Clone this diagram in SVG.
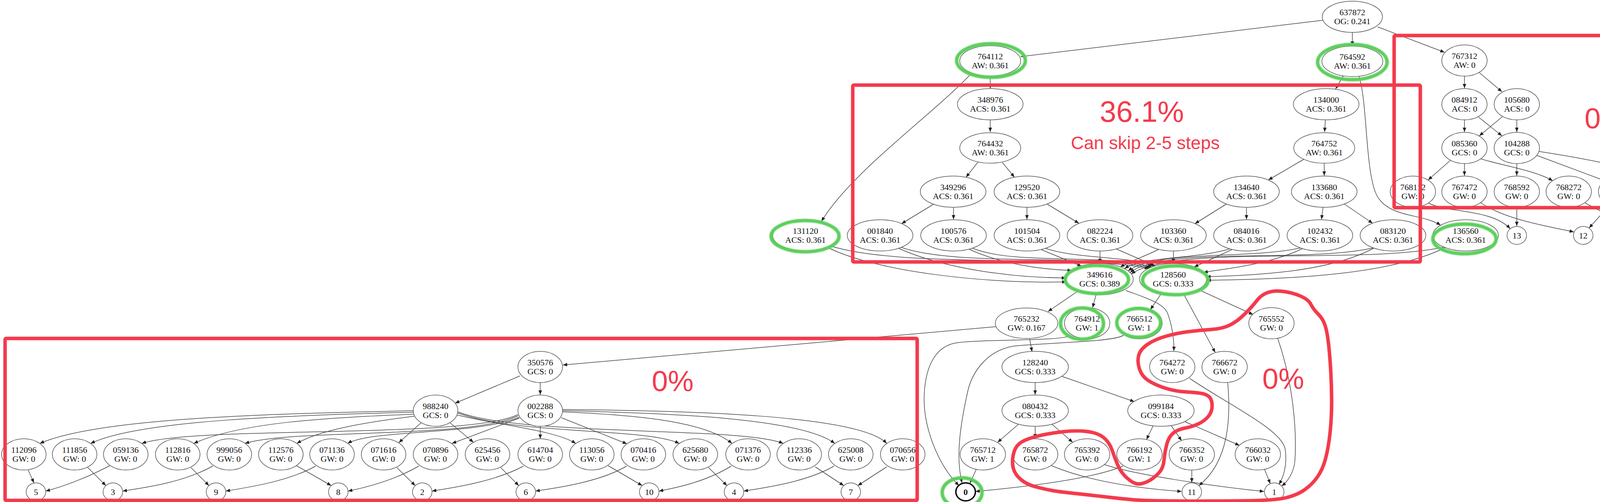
<svg xmlns="http://www.w3.org/2000/svg" width="4347" height="1286" viewBox="0 0 4347 1286">
<style>
.n ellipse{fill:#fff;stroke:#555;stroke-width:1.5}
.n text{font-family:"Liberation Serif","Times New Roman",serif;font-size:22px;text-anchor:middle;fill:#111}
.b ellipse{stroke:#000;stroke-width:3.5}
.b text{font-weight:bold}
.e path{fill:none;stroke:#444;stroke-width:1.5;marker-end:url(#a)}
.g ellipse{fill:none;stroke:#5ccf5c;stroke-width:9;filter:url(#soft)}
.r{fill:none;stroke:#f43a4c;stroke-width:9;stroke-linejoin:round;stroke-linecap:round}
.rt{font-family:"Liberation Sans",Arial,sans-serif;fill:#f43a4c;text-anchor:middle}
</style>
<defs>
<marker id="a" markerWidth="12" markerHeight="10" refX="11" refY="4.5" orient="auto" markerUnits="userSpaceOnUse"><path d="M0,0 L11,4.5 L0,9 z" fill="#222"/></marker>
<filter id="soft" x="-10%" y="-10%" width="120%" height="120%"><feGaussianBlur stdDeviation="1.2"/></filter>
</defs>
<rect width="4347" height="1286" fill="#fff"/>
<g id="connectors" class="e">
<path d="M3386,52 L2613,145"/>
<path d="M3462,83 L3462,117"/>
<path d="M3527,69 L3698,134"/>
<path d="M2535,194 L2535,227"/>
<path d="M2484,191 C2380,300 2180,440 2103,567"/>
<path d="M3439,194 L3419,228"/>
<path d="M3479,195 C3500,260 3495,420 3520,490 C3545,560 3640,545 3688,577"/>
<path d="M3749,195 L3749,226"/>
<path d="M3787,186 L3845,235"/>
<path d="M2535,307 L2535,338"/>
<path d="M3393,307 L3391,338"/>
<path d="M3749,307 L3749,338"/>
<path d="M3784,299 L3845,348"/>
<path d="M3846,299 L3787,348"/>
<path d="M3883,307 L3883,338"/>
<path d="M2503,416 L2473,454"/>
<path d="M2566,416 L2597,454"/>
<path d="M3338,408 L3247,461"/>
<path d="M3390,419 L3390,450"/>
<path d="M3715,409 L3656,461"/>
<path d="M3749,419 L3749,450"/>
<path d="M3791,407 C3850,425 3930,437 3975,463"/>
<path d="M3883,419 L3883,450"/>
<path d="M3934,398 L4108,463"/>
<path d="M3940,388 C4050,405 4190,430 4241,462"/>
<path d="M3657,520 C3700,545 3820,535 3866,586"/>
<path d="M3883,531 L3883,579"/>
<path d="M3790,519 C3850,560 3950,578 4029,594"/>
<path d="M4058,520 L4186,587"/>
<path d="M4121,525 L4068,584"/>
<path d="M4261,527 L4221,585"/>
<path d="M2390,523 L2308,573"/>
<path d="M2441,531 L2441,562"/>
<path d="M2629,531 L2629,562"/>
<path d="M2681,523 L2762,572"/>
<path d="M3139,523 L3059,573"/>
<path d="M3191,531 L3191,562"/>
<path d="M3387,531 L3383,562"/>
<path d="M3442,523 L3514,572"/>
<path d="M2117,633 C2250,700 2550,728 2730,722"/>
<path d="M2300,636 C2420,690 2600,712 2729,712"/>
<path d="M2480,638 C2560,675 2660,690 2744,693"/>
<path d="M2662,638 L2769,682"/>
<path d="M2816,643 L2816,674"/>
<path d="M2972,636 C2935,655 2895,668 2868,684"/>
<path d="M3150,637 C3060,665 2930,655 2879,688"/>
<path d="M3335,634 C3200,665 2960,640 2888,694"/>
<path d="M3520,634 C3350,675 2980,630 2893,698"/>
<path d="M3705,631 C3500,680 3000,625 2896,702"/>
<path d="M2120,628 C2300,690 2780,650 2941,688"/>
<path d="M2305,633 C2450,685 2800,648 2945,686"/>
<path d="M2490,636 C2600,680 2820,648 2949,684"/>
<path d="M2676,636 C2760,665 2900,655 2953,682"/>
<path d="M2856,637 L2957,681"/>
<path d="M3004,643 L3004,674"/>
<path d="M3159,637 L3057,684"/>
<path d="M3340,634 C3250,680 3120,690 3081,698"/>
<path d="M3520,634 C3400,700 3200,705 3088,709"/>
<path d="M3700,634 C3550,710 3250,716 3089,718"/>
<path d="M2759,746 L2683,798"/>
<path d="M2806,755 L2797,788"/>
<path d="M2882,744 C2930,762 2975,775 2988,800 C3000,830 3006,870 3005,899"/>
<path d="M2973,752 L2945,793"/>
<path d="M3030,753 L3111,903"/>
<path d="M3075,745 L3208,806"/>
<path d="M2549,837 L1441,935"/>
<path d="M2636,868 L2642,901"/>
<path d="M2741,859 C2720,875 2520,868 2450,878 C2400,885 2370,930 2366,1010 C2362,1090 2400,1190 2455,1244"/>
<path d="M2876,859 C2850,876 2680,878 2600,886 C2530,895 2490,950 2478,1000 C2460,1080 2445,1170 2463,1237"/>
<path d="M2499,1203 L2483,1238"/>
<path d="M2875,1194 C2800,1225 2650,1245 2497,1259"/>
<path d="M2650,980 L2650,1011"/>
<path d="M2718,964 L2904,1029"/>
<path d="M2607,1087 L2554,1133"/>
<path d="M2650,1092 L2650,1123"/>
<path d="M2692,1086 L2746,1133"/>
<path d="M2952,1091 L2935,1126"/>
<path d="M2998,1090 L3025,1129"/>
<path d="M3033,1080 L3173,1141"/>
<path d="M2692,1193 C2780,1230 2900,1250 3025,1259"/>
<path d="M2827,1190 C2900,1215 3100,1245 3236,1259"/>
<path d="M3051,1204 L3051,1236"/>
<path d="M3143,980 C3150,1060 3150,1180 3069,1244"/>
<path d="M3045,969 C3150,1040 3280,1100 3290,1150 C3296,1190 3286,1222 3274,1241"/>
<path d="M3271,867 C3310,980 3320,1100 3315,1180 C3312,1212 3296,1234 3281,1245"/>
<path d="M3237,1202 L3252,1239"/>
<path d="M1331,963 L1165,1033"/>
<path d="M1383,980 L1383,1011"/>
<path d="M1059,1052 C700,1060 250,1070 102,1136"/>
<path d="M1059,1056 C760,1064 360,1075 232,1136"/>
<path d="M1060,1061 C850,1070 620,1080 496,1136"/>
<path d="M1062,1066 C950,1080 820,1100 760,1136"/>
<path d="M1078,1083 L1021,1134"/>
<path d="M1152,1083 L1212,1133"/>
<path d="M1170,1063 C1280,1090 1420,1102 1474,1136"/>
<path d="M1172,1058 C1330,1115 1650,1095 1739,1136"/>
<path d="M1172,1055 C1330,1118 1900,1092 2005,1136"/>
<path d="M1326,1062 C1200,1125 500,1090 363,1136"/>
<path d="M1327,1065 C1200,1125 750,1098 627,1136"/>
<path d="M1329,1069 C1220,1115 950,1100 890,1136"/>
<path d="M1330,1071 L1157,1136"/>
<path d="M1383,1092 L1383,1124"/>
<path d="M1437,1070 L1605,1137"/>
<path d="M1440,1055 C1600,1062 1800,1075 1874,1136"/>
<path d="M1440,1052 C1700,1058 2050,1070 2137,1136"/>
<path d="M1440,1049 C1750,1052 2200,1062 2270,1136"/>
<path d="M72,1204 L87,1237"/>
<path d="M281,1193 C220,1225 160,1247 117,1258"/>
<path d="M224,1197 L271,1244"/>
<path d="M545,1194 C470,1235 380,1248 314,1258"/>
<path d="M489,1198 L535,1244"/>
<path d="M808,1194 C740,1232 640,1248 578,1258"/>
<path d="M759,1193 L848,1244"/>
<path d="M1072,1194 C1010,1230 940,1248 891,1258"/>
<path d="M1016,1198 L1063,1244"/>
<path d="M1340,1194 C1270,1232 1170,1248 1106,1258"/>
<path d="M1282,1198 L1328,1244"/>
<path d="M1604,1194 C1540,1232 1440,1248 1371,1258"/>
<path d="M1557,1193 L1644,1244"/>
<path d="M1872,1194 C1810,1232 1740,1248 1687,1258"/>
<path d="M1814,1198 L1861,1244"/>
<path d="M2135,1194 C2070,1232 1970,1248 1904,1258"/>
<path d="M2087,1196 L2160,1244"/>
<path d="M2270,1196 L2196,1244"/>
</g>
<g id="nodes">
<g id="n637872" class="n"><ellipse cx="3462" cy="43" rx="77" ry="40"/><text x="3462" y="39">637872</text><text x="3462" y="62">OG: 0.241</text></g>
<g id="n764112" class="n"><ellipse cx="2535" cy="156" rx="78" ry="39"/><text x="2535" y="152">764112</text><text x="2535" y="175">AW: 0.361</text></g>
<g id="n764592" class="n"><ellipse cx="3462" cy="157" rx="78" ry="39"/><text x="3462" y="153">764592</text><text x="3462" y="176">AW: 0.361</text></g>
<g id="n767312" class="n"><ellipse cx="3749" cy="155" rx="58" ry="40"/><text x="3749" y="151">767312</text><text x="3749" y="174">AW: 0</text></g>
<g id="n348976" class="n"><ellipse cx="2535" cy="267" rx="84" ry="40"/><text x="2535" y="263">348976</text><text x="2535" y="286">ACS: 0.361</text></g>
<g id="n134000" class="n"><ellipse cx="3395" cy="267" rx="84" ry="40"/><text x="3395" y="263">134000</text><text x="3395" y="286">ACS: 0.361</text></g>
<g id="n084912" class="n"><ellipse cx="3749" cy="267" rx="58" ry="40"/><text x="3749" y="263">084912</text><text x="3749" y="286">ACS: 0</text></g>
<g id="n105680" class="n"><ellipse cx="3883" cy="267" rx="58" ry="40"/><text x="3883" y="263">105680</text><text x="3883" y="286">ACS: 0</text></g>
<g id="n764432" class="n"><ellipse cx="2535" cy="379" rx="78" ry="39"/><text x="2535" y="375">764432</text><text x="2535" y="398">AW: 0.361</text></g>
<g id="n764752" class="n"><ellipse cx="3390" cy="379" rx="78" ry="39"/><text x="3390" y="375">764752</text><text x="3390" y="398">AW: 0.361</text></g>
<g id="n085360" class="n"><ellipse cx="3749" cy="379" rx="58" ry="40"/><text x="3749" y="375">085360</text><text x="3749" y="398">GCS: 0</text></g>
<g id="n104288" class="n"><ellipse cx="3883" cy="379" rx="58" ry="40"/><text x="3883" y="375">104288</text><text x="3883" y="398">GCS: 0</text></g>
<g id="n349296" class="n"><ellipse cx="2440" cy="491" rx="84" ry="40"/><text x="2440" y="487">349296</text><text x="2440" y="510">ACS: 0.361</text></g>
<g id="n129520" class="n"><ellipse cx="2629" cy="491" rx="84" ry="40"/><text x="2629" y="487">129520</text><text x="2629" y="510">ACS: 0.361</text></g>
<g id="n134640" class="n"><ellipse cx="3191" cy="491" rx="84" ry="40"/><text x="3191" y="487">134640</text><text x="3191" y="510">ACS: 0.361</text></g>
<g id="n133680" class="n"><ellipse cx="3390" cy="491" rx="84" ry="40"/><text x="3390" y="487">133680</text><text x="3390" y="510">ACS: 0.361</text></g>
<g id="n768112" class="n"><ellipse cx="3617" cy="491" rx="58" ry="40"/><text x="3617" y="487">768112</text><text x="3617" y="510">GW: 0</text></g>
<g id="n767472" class="n"><ellipse cx="3749" cy="491" rx="58" ry="40"/><text x="3749" y="487">767472</text><text x="3749" y="510">GW: 0</text></g>
<g id="n768592" class="n"><ellipse cx="3883" cy="491" rx="58" ry="40"/><text x="3883" y="487">768592</text><text x="3883" y="510">GW: 0</text></g>
<g id="n768272" class="n"><ellipse cx="4016" cy="491" rx="58" ry="40"/><text x="4016" y="487">768272</text><text x="4016" y="510">GW: 0</text></g>
<g id="n768432" class="n"><ellipse cx="4150" cy="491" rx="58" ry="40"/><text x="4150" y="487">768432</text><text x="4150" y="510">GW: 0</text></g>
<g id="n768752" class="n"><ellipse cx="4283" cy="491" rx="58" ry="40"/><text x="4283" y="487">768752</text><text x="4283" y="510">GW: 0</text></g>
<g id="n131120" class="n"><ellipse cx="2062" cy="603" rx="84" ry="40"/><text x="2062" y="599">131120</text><text x="2062" y="622">ACS: 0.361</text></g>
<g id="n001840" class="n"><ellipse cx="2253" cy="603" rx="84" ry="40"/><text x="2253" y="599">001840</text><text x="2253" y="622">ACS: 0.361</text></g>
<g id="n100576" class="n"><ellipse cx="2441" cy="603" rx="84" ry="40"/><text x="2441" y="599">100576</text><text x="2441" y="622">ACS: 0.361</text></g>
<g id="n101504" class="n"><ellipse cx="2629" cy="603" rx="84" ry="40"/><text x="2629" y="599">101504</text><text x="2629" y="622">ACS: 0.361</text></g>
<g id="n082224" class="n"><ellipse cx="2816" cy="603" rx="84" ry="40"/><text x="2816" y="599">082224</text><text x="2816" y="622">ACS: 0.361</text></g>
<g id="n103360" class="n"><ellipse cx="3004" cy="603" rx="84" ry="40"/><text x="3004" y="599">103360</text><text x="3004" y="622">ACS: 0.361</text></g>
<g id="n084016" class="n"><ellipse cx="3191" cy="603" rx="84" ry="40"/><text x="3191" y="599">084016</text><text x="3191" y="622">ACS: 0.361</text></g>
<g id="n102432" class="n"><ellipse cx="3379" cy="603" rx="84" ry="40"/><text x="3379" y="599">102432</text><text x="3379" y="622">ACS: 0.361</text></g>
<g id="n083120" class="n"><ellipse cx="3566" cy="603" rx="84" ry="40"/><text x="3566" y="599">083120</text><text x="3566" y="622">ACS: 0.361</text></g>
<g id="n136560" class="n"><ellipse cx="3752" cy="603" rx="84" ry="40"/><text x="3752" y="599">136560</text><text x="3752" y="622">ACS: 0.361</text></g>
<g id="n13" class="n"><ellipse cx="3883" cy="603" rx="25" ry="23"/><text x="3883" y="611">13</text></g>
<g id="n12" class="n"><ellipse cx="4053" cy="603" rx="25" ry="23"/><text x="4053" y="611">12</text></g>
<g id="n14" class="n"><ellipse cx="4205" cy="603" rx="25" ry="23"/><text x="4205" y="611">14</text></g>
<g id="n349616" class="n"><ellipse cx="2815" cy="715" rx="86" ry="40"/><text x="2815" y="711">349616</text><text x="2815" y="734">GCS: 0.389</text></g>
<g id="n128560" class="n"><ellipse cx="3003" cy="715" rx="86" ry="40"/><text x="3003" y="711">128560</text><text x="3003" y="734">GCS: 0.333</text></g>
<g id="n765232" class="n"><ellipse cx="2628" cy="828" rx="80" ry="39"/><text x="2628" y="824">765232</text><text x="2628" y="847">GW: 0.167</text></g>
<g id="n764912" class="n"><ellipse cx="2783" cy="828" rx="58" ry="40"/><text x="2783" y="824">764912</text><text x="2783" y="847">GW: 1</text></g>
<g id="n766512" class="n"><ellipse cx="2917" cy="828" rx="58" ry="40"/><text x="2917" y="824">766512</text><text x="2917" y="847">GW: 1</text></g>
<g id="n765552" class="n"><ellipse cx="3255" cy="828" rx="58" ry="40"/><text x="3255" y="824">765552</text><text x="3255" y="847">GW: 0</text></g>
<g id="n128240" class="n"><ellipse cx="2650" cy="940" rx="85" ry="40"/><text x="2650" y="936">128240</text><text x="2650" y="959">GCS: 0.333</text></g>
<g id="n764272" class="n"><ellipse cx="3001" cy="940" rx="58" ry="40"/><text x="3001" y="936">764272</text><text x="3001" y="959">GW: 0</text></g>
<g id="n766672" class="n"><ellipse cx="3135" cy="940" rx="58" ry="40"/><text x="3135" y="936">766672</text><text x="3135" y="959">GW: 0</text></g>
<g id="n080432" class="n"><ellipse cx="2650" cy="1052" rx="85" ry="40"/><text x="2650" y="1048">080432</text><text x="2650" y="1071">GCS: 0.333</text></g>
<g id="n099184" class="n"><ellipse cx="2972" cy="1052" rx="85" ry="40"/><text x="2972" y="1048">099184</text><text x="2972" y="1071">GCS: 0.333</text></g>
<g id="n765712" class="n"><ellipse cx="2516" cy="1164" rx="58" ry="40"/><text x="2516" y="1160">765712</text><text x="2516" y="1183">GW: 1</text></g>
<g id="n765872" class="n"><ellipse cx="2650" cy="1164" rx="58" ry="40"/><text x="2650" y="1160">765872</text><text x="2650" y="1183">GW: 0</text></g>
<g id="n765392" class="n"><ellipse cx="2783" cy="1164" rx="58" ry="40"/><text x="2783" y="1160">765392</text><text x="2783" y="1183">GW: 0</text></g>
<g id="n766192" class="n"><ellipse cx="2917" cy="1164" rx="58" ry="40"/><text x="2917" y="1160">766192</text><text x="2917" y="1183">GW: 1</text></g>
<g id="n766352" class="n"><ellipse cx="3051" cy="1164" rx="58" ry="40"/><text x="3051" y="1160">766352</text><text x="3051" y="1183">GW: 0</text></g>
<g id="n766032" class="n"><ellipse cx="3220" cy="1164" rx="58" ry="40"/><text x="3220" y="1160">766032</text><text x="3220" y="1183">GW: 0</text></g>
<g id="n0" class="n b"><ellipse cx="2472" cy="1260" rx="25" ry="23"/><text x="2472" y="1268">0</text></g>
<g id="n11" class="n"><ellipse cx="3051" cy="1260" rx="25" ry="23"/><text x="3051" y="1268">11</text></g>
<g id="n1" class="n"><ellipse cx="3262" cy="1260" rx="25" ry="23"/><text x="3262" y="1268">1</text></g>
<g id="n350576" class="n"><ellipse cx="1383" cy="940" rx="57" ry="40"/><text x="1383" y="936">350576</text><text x="1383" y="959">GCS: 0</text></g>
<g id="n988240" class="n"><ellipse cx="1115" cy="1052" rx="57" ry="40"/><text x="1115" y="1048">988240</text><text x="1115" y="1071">GCS: 0</text></g>
<g id="n002288" class="n"><ellipse cx="1383" cy="1052" rx="57" ry="40"/><text x="1383" y="1048">002288</text><text x="1383" y="1071">GCS: 0</text></g>
<g id="n112096" class="n"><ellipse cx="61" cy="1164" rx="57" ry="40"/><text x="61" y="1160">112096</text><text x="61" y="1183">GW: 0</text></g>
<g id="n111856" class="n"><ellipse cx="191" cy="1164" rx="57" ry="40"/><text x="191" y="1160">111856</text><text x="191" y="1183">GW: 0</text></g>
<g id="n059136" class="n"><ellipse cx="322" cy="1164" rx="57" ry="40"/><text x="322" y="1160">059136</text><text x="322" y="1183">GW: 0</text></g>
<g id="n112816" class="n"><ellipse cx="455" cy="1164" rx="57" ry="40"/><text x="455" y="1160">112816</text><text x="455" y="1183">GW: 0</text></g>
<g id="n999056" class="n"><ellipse cx="587" cy="1164" rx="57" ry="40"/><text x="587" y="1160">999056</text><text x="587" y="1183">GW: 0</text></g>
<g id="n112576" class="n"><ellipse cx="719" cy="1164" rx="57" ry="40"/><text x="719" y="1160">112576</text><text x="719" y="1183">GW: 0</text></g>
<g id="n071136" class="n"><ellipse cx="850" cy="1164" rx="57" ry="40"/><text x="850" y="1160">071136</text><text x="850" y="1183">GW: 0</text></g>
<g id="n071616" class="n"><ellipse cx="982" cy="1164" rx="57" ry="40"/><text x="982" y="1160">071616</text><text x="982" y="1183">GW: 0</text></g>
<g id="n070896" class="n"><ellipse cx="1115" cy="1164" rx="57" ry="40"/><text x="1115" y="1160">070896</text><text x="1115" y="1183">GW: 0</text></g>
<g id="n625456" class="n"><ellipse cx="1248" cy="1164" rx="57" ry="40"/><text x="1248" y="1160">625456</text><text x="1248" y="1183">GW: 0</text></g>
<g id="n614704" class="n"><ellipse cx="1383" cy="1164" rx="57" ry="40"/><text x="1383" y="1160">614704</text><text x="1383" y="1183">GW: 0</text></g>
<g id="n113056" class="n"><ellipse cx="1515" cy="1164" rx="57" ry="40"/><text x="1515" y="1160">113056</text><text x="1515" y="1183">GW: 0</text></g>
<g id="n070416" class="n"><ellipse cx="1647" cy="1164" rx="57" ry="40"/><text x="1647" y="1160">070416</text><text x="1647" y="1183">GW: 0</text></g>
<g id="n625680" class="n"><ellipse cx="1780" cy="1164" rx="57" ry="40"/><text x="1780" y="1160">625680</text><text x="1780" y="1183">GW: 0</text></g>
<g id="n071376" class="n"><ellipse cx="1915" cy="1164" rx="57" ry="40"/><text x="1915" y="1160">071376</text><text x="1915" y="1183">GW: 0</text></g>
<g id="n112336" class="n"><ellipse cx="2046" cy="1164" rx="57" ry="40"/><text x="2046" y="1160">112336</text><text x="2046" y="1183">GW: 0</text></g>
<g id="n625008" class="n"><ellipse cx="2178" cy="1164" rx="57" ry="40"/><text x="2178" y="1160">625008</text><text x="2178" y="1183">GW: 0</text></g>
<g id="n070656" class="n"><ellipse cx="2311" cy="1164" rx="57" ry="40"/><text x="2311" y="1160">070656</text><text x="2311" y="1183">GW: 0</text></g>
<g id="n5" class="n"><ellipse cx="92" cy="1260" rx="25" ry="23"/><text x="92" y="1268">5</text></g>
<g id="n3" class="n"><ellipse cx="289" cy="1260" rx="25" ry="23"/><text x="289" y="1268">3</text></g>
<g id="n9" class="n"><ellipse cx="553" cy="1260" rx="25" ry="23"/><text x="553" y="1268">9</text></g>
<g id="n8" class="n"><ellipse cx="866" cy="1260" rx="25" ry="23"/><text x="866" y="1268">8</text></g>
<g id="n2" class="n"><ellipse cx="1081" cy="1260" rx="25" ry="23"/><text x="1081" y="1268">2</text></g>
<g id="n6" class="n"><ellipse cx="1346" cy="1260" rx="25" ry="23"/><text x="1346" y="1268">6</text></g>
<g id="n10" class="n"><ellipse cx="1662" cy="1260" rx="25" ry="23"/><text x="1662" y="1268">10</text></g>
<g id="n4" class="n"><ellipse cx="1879" cy="1260" rx="25" ry="23"/><text x="1879" y="1268">4</text></g>
<g id="n7" class="n"><ellipse cx="2178" cy="1260" rx="25" ry="23"/><text x="2178" y="1268">7</text></g>
</g>
<g id="highlights" class="g">
<ellipse cx="2537" cy="155" rx="88" ry="43"/>
<ellipse cx="3462" cy="159" rx="89" ry="45"/>
<ellipse cx="2061" cy="605" rx="87" ry="40"/>
<ellipse cx="3749" cy="612" rx="81" ry="38"/>
<ellipse cx="2808" cy="716" rx="81" ry="36"/>
<ellipse cx="3009" cy="718" rx="84" ry="37"/>
<ellipse cx="2770" cy="829" rx="55" ry="40"/>
<ellipse cx="2915" cy="827" rx="56" ry="37"/>
<ellipse cx="2463" cy="1262" rx="51" ry="38"/>
</g>
<g id="annotations">
<rect class="r" x="2183" y="218" width="1453" height="453" rx="3"/>
<rect class="r" x="3569" y="91" width="750" height="441" rx="3"/>
<rect class="r" x="13" y="867" width="2335" height="415" rx="3"/>
<path class="r" d="M3217.5,770 Q3229,755 3246.5,749 Q3264,743 3288.5,747 Q3313,751 3331.5,759.5 Q3350,768 3356,780 Q3362,792 3374.5,804.5 Q3387,817 3392.5,834.5 Q3398,852 3401.5,885 Q3405,918 3407,956 Q3409,994 3409,1032 Q3409,1070 3405,1108 Q3401,1146 3393.5,1174.5 Q3386,1203 3372.5,1222 Q3359,1241 3340,1254.5 Q3321,1268 3292.5,1275 Q3264,1282 3182,1283 Q3100,1284 3015,1283.5 Q2930,1283 2898,1280 Q2866,1277 2827.5,1272.5 Q2789,1268 2751,1264 Q2713,1260 2693.5,1256.5 Q2674,1253 2651,1247 Q2628,1241 2613,1228 Q2598,1215 2594,1199.5 Q2590,1184 2594,1165 Q2598,1146 2609.5,1136.5 Q2621,1127 2647.5,1119.5 Q2674,1112 2712.5,1107 Q2751,1102 2779.5,1105 Q2808,1108 2823.5,1119.5 Q2839,1131 2846.5,1152 Q2854,1173 2860,1188 Q2866,1203 2875.5,1214.5 Q2885,1226 2897.5,1234 Q2910,1242 2922.5,1239 Q2935,1236 2946,1229 Q2957,1222 2967.5,1210.5 Q2978,1199 2980,1178 Q2982,1157 2987,1138 Q2992,1119 3003.5,1109.5 Q3015,1100 3034,1096.5 Q3053,1093 3068.5,1085.5 Q3084,1078 3093.5,1066.5 Q3103,1055 3103,1039.5 Q3103,1024 3095.5,1016.5 Q3088,1009 3070.5,1007 Q3053,1005 3030,1003.5 Q3007,1002 2982,994 Q2957,986 2940,975 Q2923,964 2917,945 Q2911,926 2915,910.5 Q2919,895 2938,882 Q2957,869 2986,861 Q3015,853 3043.5,849.5 Q3072,846 3101,844 Q3130,842 3149,832.5 Q3168,823 3187,804 Q3206,785 3217.5,770 Z"/>
<text class="rt" x="2923" y="312" font-size="76">36.1%</text>
<text class="rt" x="2932" y="382" font-size="46">Can skip 2-5 steps</text>
<text class="rt" x="4110" y="329" font-size="74">0%</text>
<text class="rt" x="1722" y="1002" font-size="74">0%</text>
<text class="rt" x="3285" y="996" font-size="74">0%</text>
</g>
</svg>
